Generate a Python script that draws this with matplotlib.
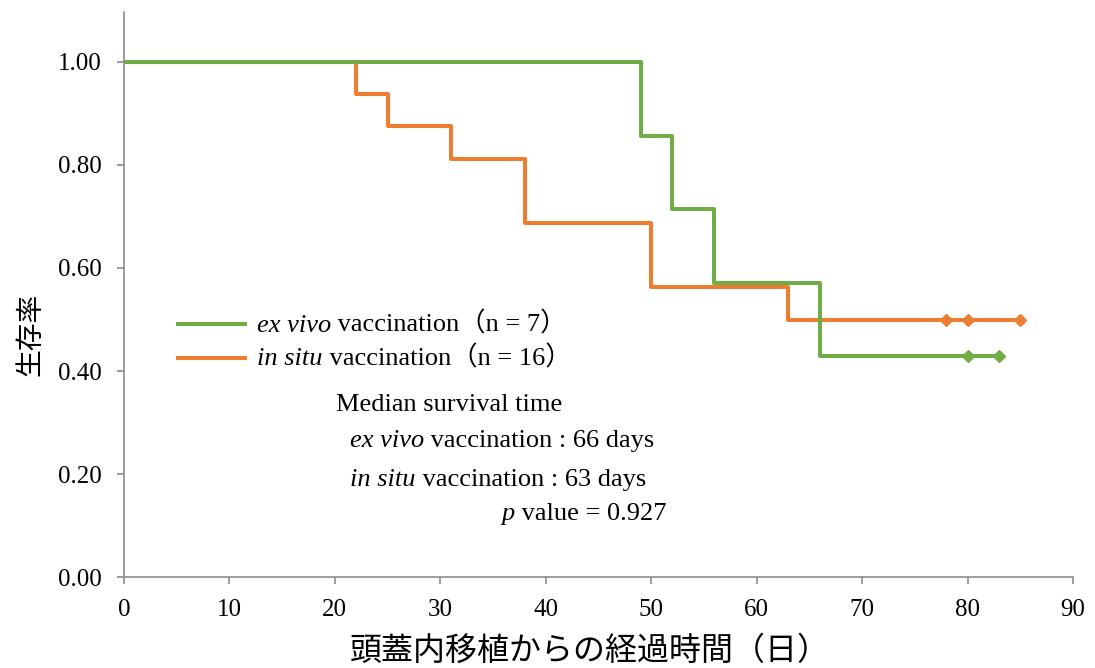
import matplotlib
matplotlib.use('Agg')
import matplotlib.pyplot as plt
from matplotlib.lines import Line2D
from matplotlib.offsetbox import TextArea, DrawingArea, HPacker, VPacker, AnchoredOffsetbox

plt.rcParams['font.family'] = ['Liberation Serif', 'Noto Sans CJK JP']
plt.rcParams['font.size'] = 18

# Kaplan-Meier steps (time in days, survival rate)
ex_vivo_t = [0, 49, 52, 56, 66, 83]
ex_vivo_s = [1.0, 0.857, 0.714, 0.571, 0.429, 0.429]
ex_vivo_censor_t = [80, 83]
ex_vivo_censor_s = [0.429, 0.429]

in_situ_t = [0, 22, 25, 31, 38, 50, 63, 85]
in_situ_s = [1.0, 0.9375, 0.875, 0.8125, 0.6875, 0.5625, 0.5, 0.5]
in_situ_censor_t = [78, 80, 85]
in_situ_censor_s = [0.5, 0.5, 0.5]

green = '#70AD47'
orange = '#ED7D31'
axis_gray = '#8C8C8C'
txt_size = 19

fig = plt.figure(figsize=(10.95, 6.68), dpi=100)
ax = fig.add_axes([0.1132, 0.1362, 0.8667, 0.8458])

ax.step(in_situ_t, in_situ_s, where='post', color=orange, lw=2.9)
ax.plot(in_situ_censor_t, in_situ_censor_s, 'D', color=orange, ms=6.5, lw=0)
ax.step(ex_vivo_t, ex_vivo_s, where='post', color=green, lw=2.9)
ax.plot(ex_vivo_censor_t, ex_vivo_censor_s, 'D', color=green, ms=6.5, lw=0)

ax.set_xlim(0, 90)
ax.set_ylim(0, 1.097)
ax.set_xticks(range(0, 91, 10))
ax.set_yticks([0, 0.2, 0.4, 0.6, 0.8, 1.0])
ax.set_yticklabels(['%.2f' % v for v in [0, 0.2, 0.4, 0.6, 0.8, 1.0]])
for s in ['top', 'right']:
    ax.spines[s].set_visible(False)
for s in ['left', 'bottom']:
    ax.spines[s].set_color(axis_gray)
    ax.spines[s].set_linewidth(1.2)
ax.tick_params(direction='out', length=5, width=1.2, color=axis_gray, pad=11, labelsize=18)

ax.set_xlabel('頭蓋内移植からの経過時間（日）', fontsize=23)
ax.xaxis.set_label_coords(0.491, -0.106)
ax.set_ylabel('生存率', fontsize=20)
ax.yaxis.set_label_coords(-0.084, 0.43)


def legend_row(color, italic, rest):
    da = DrawingArea(48, 10, 0, 0)
    da.add_artist(Line2D([0, 48], [5, 5], color=color, lw=2.9))
    return HPacker(children=[da, text_row(italic, rest)], align='center', pad=0, sep=9)


def text_row(italic, rest):
    t1 = TextArea(italic, textprops=dict(fontsize=txt_size, style='italic'))
    t2 = TextArea(rest, textprops=dict(fontsize=txt_size))
    return HPacker(children=[t1, t2], align='baseline', pad=0, sep=0)


def place(box, x_px, y_px):
    ab = AnchoredOffsetbox(loc='center left', child=box, pad=0, borderpad=0, frameon=False,
                           bbox_to_anchor=(x_px / 1095, 1 - y_px / 668),
                           bbox_transform=fig.transFigure)
    ax.add_artist(ab)


legend = VPacker(children=[legend_row(green, 'ex vivo', ' vaccination（n = 7）'),
                           legend_row(orange, 'in situ', ' vaccination（n = 16）')],
                 align='left', pad=0, sep=6)
place(legend, 178, 341)

place(TextArea('Median survival time', textprops=dict(fontsize=txt_size)), 336, 405)
place(text_row('ex vivo', ' vaccination : 66 days'), 350, 441)
place(text_row('in situ', ' vaccination : 63 days'), 350, 480)
place(text_row('p', ' value = 0.927'), 502, 514)

fig.savefig('out.png', dpi=100)
